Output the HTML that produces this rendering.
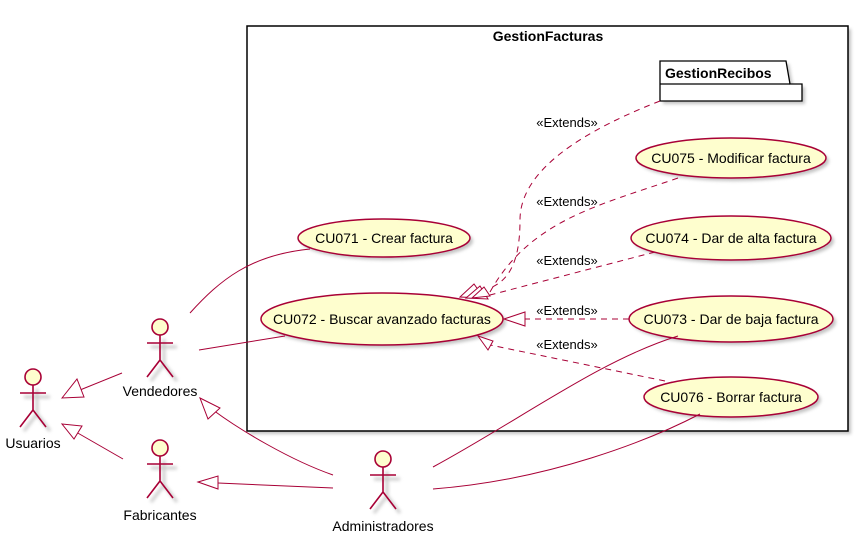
<!DOCTYPE html>
<html><head><meta charset="utf-8"><style>
html,body{margin:0;padding:0;background:#fff;}
svg{display:block;font-family:"Liberation Sans",sans-serif;}
</style></head><body>
<svg width="860" height="543" viewBox="0 0 860 543" xmlns="http://www.w3.org/2000/svg">
<defs>
<filter id="sh" x="-20%" y="-20%" width="150%" height="150%"><feGaussianBlur stdDeviation="1.5"/></filter>
</defs>
<rect x="250" y="29" width="601" height="405" fill="#888" opacity="0.5" filter="url(#sh)"/>
<rect x="247" y="26" width="601" height="405" fill="#fff" stroke="#000" stroke-width="1.5"/>
<text x="548" y="41" font-size="14" font-weight="bold" text-anchor="middle">GestionFacturas</text>
<path d="M663,64 h126 l4,23 h12 v17 h-142 z" fill="#888" opacity="0.5" filter="url(#sh)"/>
<path d="M660,61 h126 l4,23 h12 v17 h-142 z" fill="#fff" stroke="#000" stroke-width="1.3"/>
<line x1="660" y1="84" x2="790" y2="84" stroke="#000" stroke-width="1.3"/>
<text x="665" y="78" font-size="14" font-weight="bold">GestionRecibos</text>

<g fill="#888" opacity="0.5" filter="url(#sh)">
<ellipse cx="387" cy="241" rx="86" ry="19"/>
<ellipse cx="385" cy="322" rx="121" ry="26"/>
<ellipse cx="734" cy="161" rx="95" ry="20"/>
<ellipse cx="734" cy="241" rx="100" ry="22"/>
<ellipse cx="734" cy="322" rx="102" ry="23"/>
<ellipse cx="734" cy="400" rx="87" ry="20"/>
</g>
<g fill="#FEFECE" stroke="#A80036" stroke-width="1.5">
<ellipse cx="384" cy="238" rx="86" ry="19"/>
<ellipse cx="382" cy="319" rx="121" ry="26"/>
<ellipse cx="731" cy="158" rx="95" ry="20"/>
<ellipse cx="731" cy="238" rx="100" ry="22"/>
<ellipse cx="731" cy="319" rx="102" ry="23"/>
<ellipse cx="731" cy="397" rx="87" ry="20"/>
</g>
<g font-size="14" text-anchor="middle" fill="#000">
<text x="384" y="243">CU071 - Crear factura</text>
<text x="382" y="324">CU072 - Buscar avanzado facturas</text>
<text x="731" y="163">CU075 - Modificar factura</text>
<text x="731" y="243">CU074 - Dar de alta factura</text>
<text x="731" y="324">CU073 - Dar de baja factura</text>
<text x="731" y="402">CU076 - Borrar factura</text>
</g>

<g fill="none" stroke="#A80036" stroke-width="1">
<path d="M190,313 C220,280 250,255 310,249"/>
<path d="M199,350 L285,336"/>
<path d="M433,467 C520,420 600,360 678,336"/>
<path d="M433,489 C550,480 650,440 700,414"/>
<path d="M122,373 L80,390"/>
<path d="M123,459 L76,432"/>
<path d="M333,475 C290,460 240,430 213,410"/>
<path d="M333,488 L218,483"/>
</g>
<g fill="#fff" stroke="#A80036" stroke-width="1">
<polygon points="62,398 77,379 84,397"/>
<polygon points="62,424 82,426 74,439"/>
<polygon points="200,398 220,408 208,419"/>
<polygon points="198,482 218,476 218,489"/>
</g>

<g fill="none" stroke="#A80036" stroke-width="1" stroke-dasharray="6,5">
<path d="M660,101 C560,140 520,180 520,220 C520,260 510,280 490,288"/>
<path d="M678,178 C600,205 530,220 490,292"/>
<path d="M655,252 L490,295"/>
<path d="M629,319 L525,319"/>
<path d="M665,381 L490,345"/>
</g>
<g fill="#fff" stroke="#A80036" stroke-width="1">
<polygon points="460,297 474,284 484,298"/>
<polygon points="466,298 480,286 488,299"/>
<polygon points="472,298 484,287 490,296"/>
<polygon points="504,319 525,312 525,326"/>
<polygon points="478,336 493,341 488,350"/>
</g>
<g font-size="13" text-anchor="middle" fill="#000">
<text x="567" y="127">«Extends»</text>
<text x="567" y="206">«Extends»</text>
<text x="567" y="265">«Extends»</text>
<text x="567" y="315">«Extends»</text>
<text x="567" y="349">«Extends»</text>
</g>

<g stroke="#aaa" stroke-width="3" fill="none" opacity="0.6" filter="url(#sh)">
<path transform="translate(37,381)" d="M0,8 V33 M-13,16 H13 M-13,50 L0,33 L13,50"/>
<path transform="translate(164,331)" d="M0,8 V33 M-13,16 H13 M-13,50 L0,33 L13,50"/>
<path transform="translate(164,452)" d="M0,8 V33 M-13,16 H13 M-13,50 L0,33 L13,50"/>
<path transform="translate(387,463)" d="M0,8 V33 M-13,16 H13 M-13,50 L0,33 L13,50"/>
</g>
<g stroke="#A80036" stroke-width="1.6" fill="none">
<g transform="translate(33,377)">
<circle cx="0" cy="0" r="8" fill="#FEFECE"/><path d="M0,8 V33 M-13,16 H13 M-13,50 L0,33 L13,50"/>
</g>
<g transform="translate(160,327)">
<circle cx="0" cy="0" r="8" fill="#FEFECE"/><path d="M0,8 V33 M-13,16 H13 M-13,50 L0,33 L13,50"/>
</g>
<g transform="translate(160,448)">
<circle cx="0" cy="0" r="8" fill="#FEFECE"/><path d="M0,8 V33 M-13,16 H13 M-13,50 L0,33 L13,50"/>
</g>
<g transform="translate(383,459)">
<circle cx="0" cy="0" r="8" fill="#FEFECE"/><path d="M0,8 V33 M-13,16 H13 M-13,50 L0,33 L13,50"/>
</g>
</g>
<g font-size="14" text-anchor="middle" fill="#000">
<text x="33" y="448">Usuarios</text>
<text x="160" y="396">Vendedores</text>
<text x="160" y="520">Fabricantes</text>
<text x="383" y="531">Administradores</text>
</g>
</svg>
</body></html>
